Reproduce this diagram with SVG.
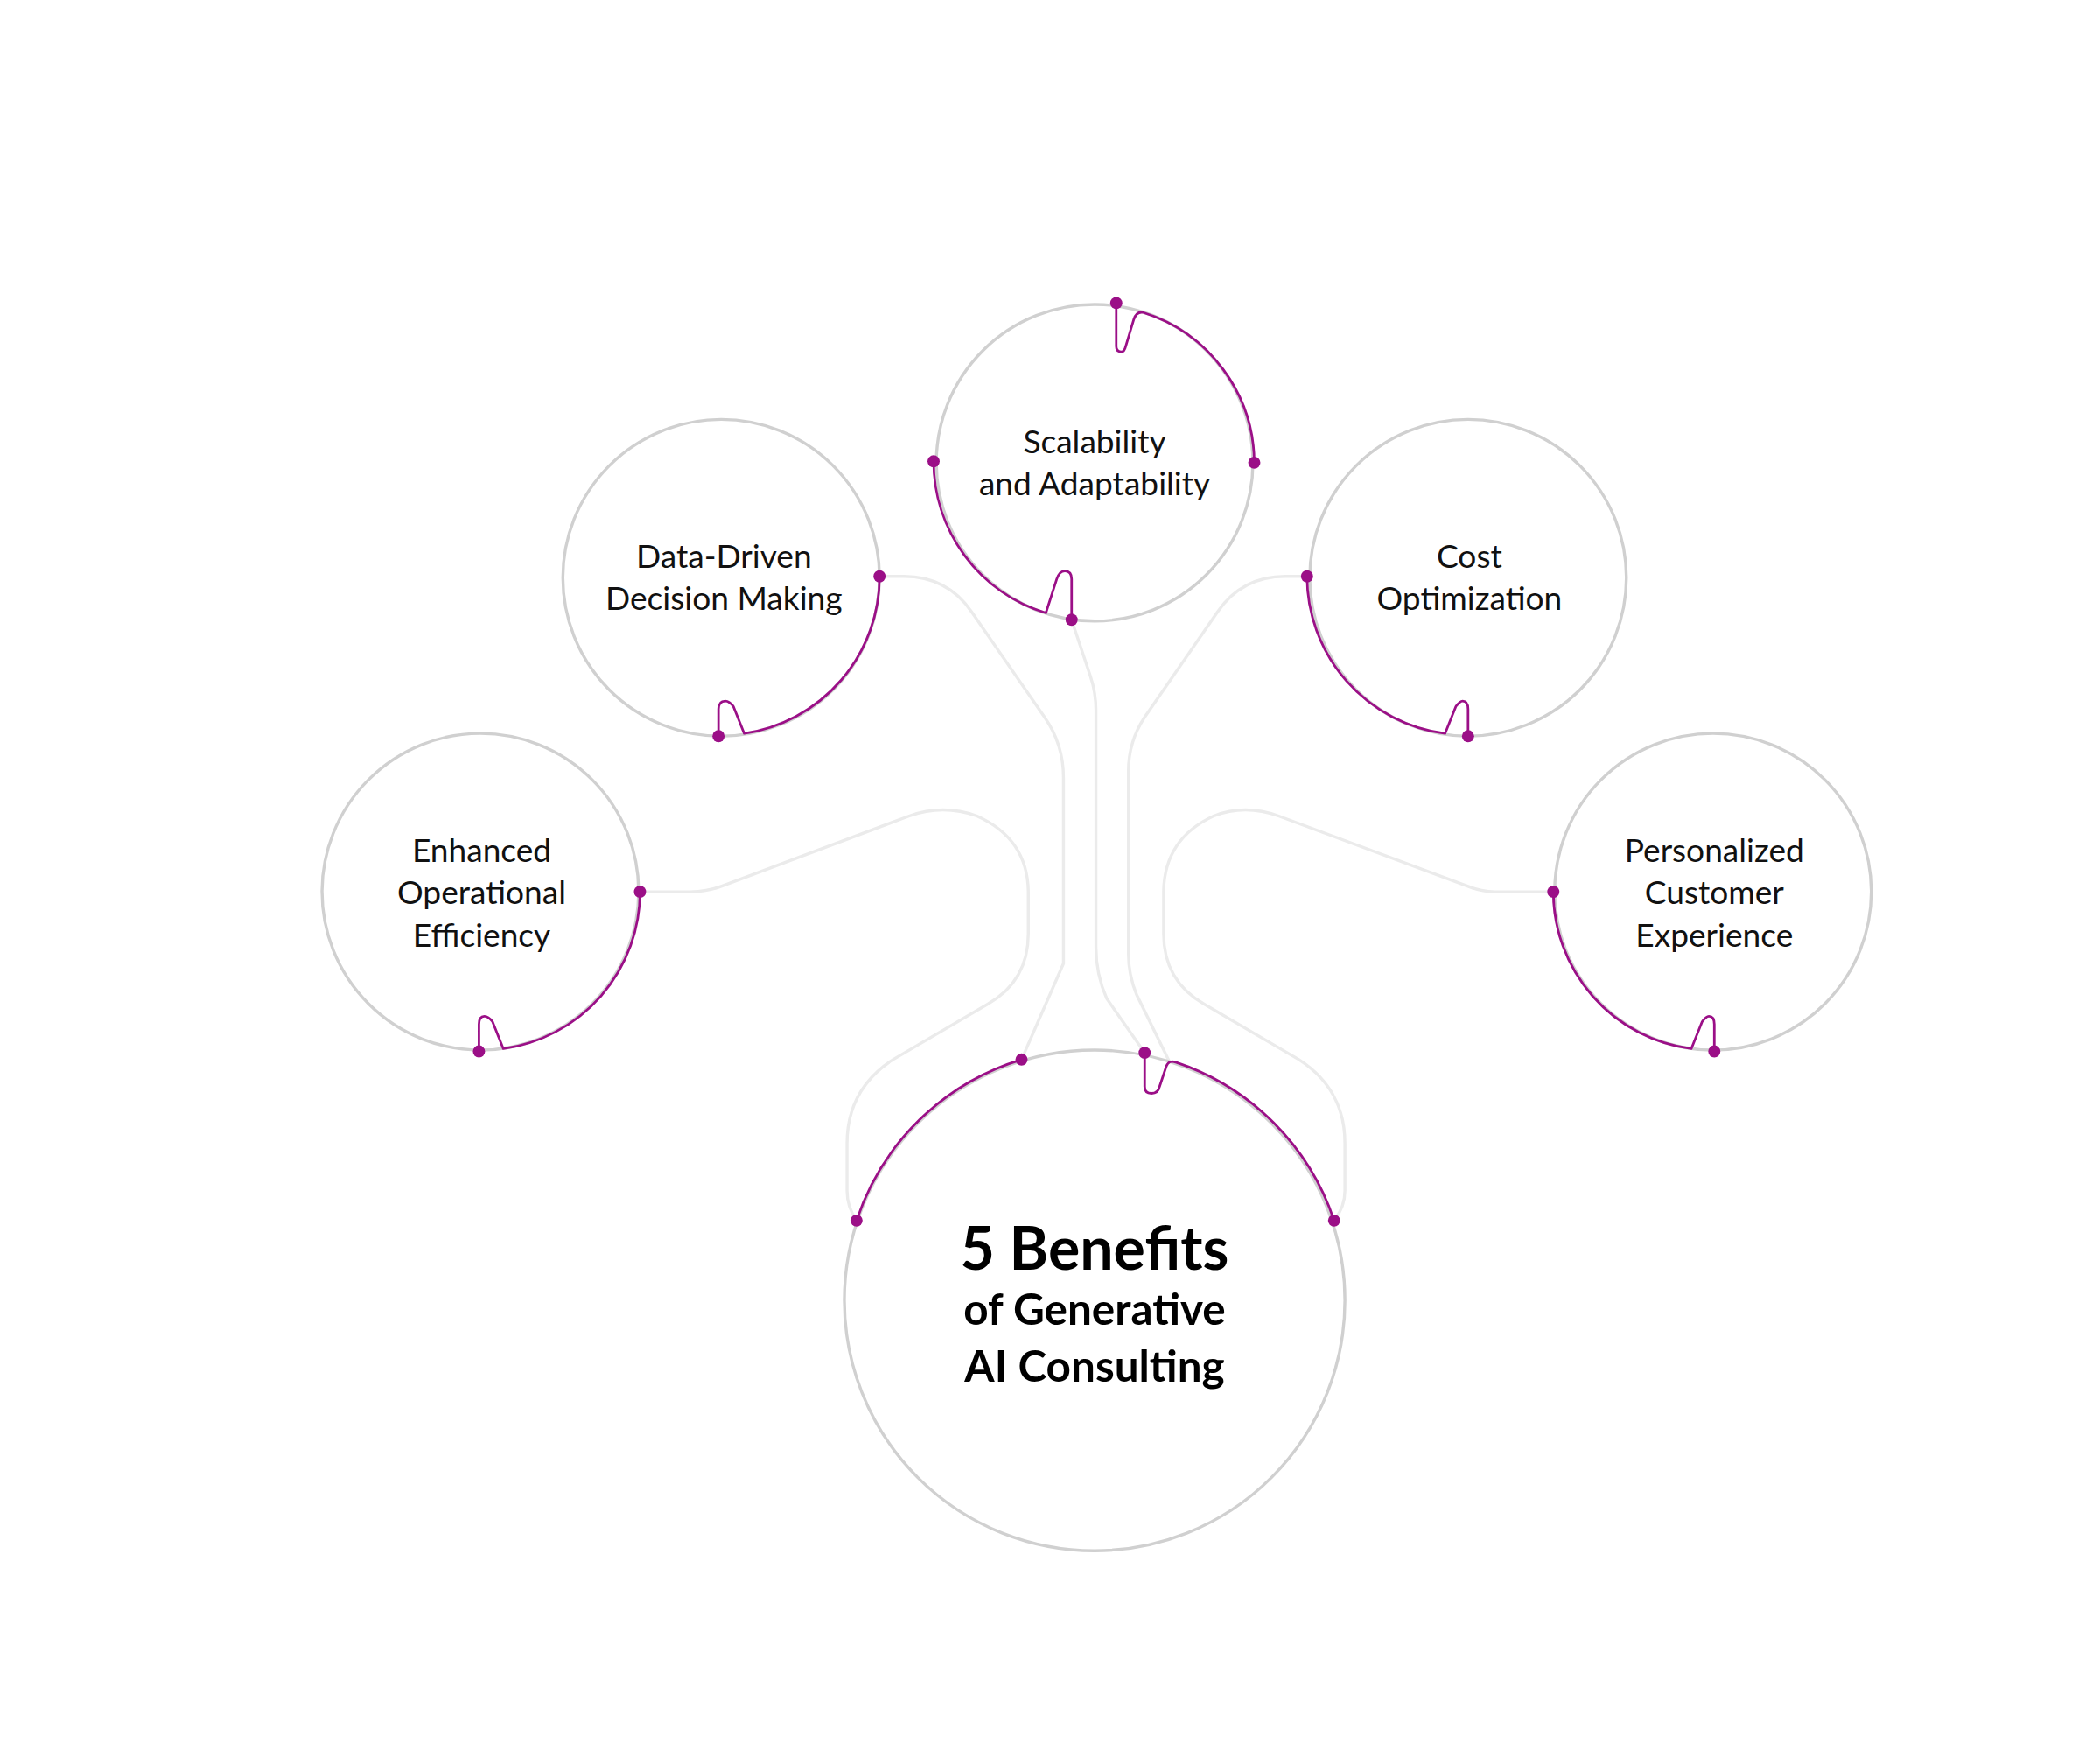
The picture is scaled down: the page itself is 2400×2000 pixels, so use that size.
<svg xmlns="http://www.w3.org/2000/svg" width="2400" height="2000" viewBox="0 0 2400 2000">
<style>
.c{fill:#fff;stroke:#d0d0d0;stroke-width:2.2}
.g{fill:none;stroke:#ebebeb;stroke-width:2.2}
.m{fill:none;stroke:#9b0f87;stroke-width:1.8;stroke-linejoin:round}
.d{fill:#9b0f87}
.t{font-family:Lato,"Liberation Sans",sans-serif;font-size:24px;fill:#111;text-anchor:middle}
.h{font-family:Lato,"Liberation Sans",sans-serif;font-weight:bold;fill:#000;text-anchor:middle}
</style>
<rect width="2400" height="2000" fill="#fff"/>
<g transform="scale(1.5464)">
<g id="connectors">
<path class="g" d="M473,659 H510 Q522,659 533,655 L672,603 Q697,594 722,603 Q760,620 760,660 V690 Q760,725 730,742 L660,783 Q626,805 626,845 V880 Q626,892 633,902"/>
<path class="g" d="M650,426 H668 Q700,426 718,452 L772,530 Q786,550 786,575 V712 L755,783"/>
<path class="g" d="M792,458 L806,500 Q810,512 810,525 V700 Q810,720 818,738 L846,778"/>
<path class="g" d="M966,426 H950 Q918,426 900,452 L846,530 Q834,548 834,570 V705 Q834,720 840,735 L865,786"/>
<path class="g" d="M1148,659 H1105 Q1095,659 1085,655 L945,603 Q920,594 897,603 Q860,620 860,660 V690 Q860,725 890,742 L960,783 Q994,805 994,845 V880 Q994,892 986,902"/>
</g>
<g id="center">
<circle class="c" cx="809" cy="961" r="185"/>
<path class="m" d="M633,902 A185,185 0 0 1 755,783"/>
<path class="m" d="M846,778 V803 Q846,808 851,808 Q856,808 857,803 L862,788 Q864,783 869,785 A185,185 0 0 1 986,902"/>
<circle class="d" cx="633" cy="902" r="4.5"/><circle class="d" cx="986" cy="902" r="4.5"/>
<circle class="d" cx="755" cy="783" r="4.5"/><circle class="d" cx="846" cy="778" r="4.5"/>
<text class="h" x="809" y="938" font-size="44">5 Benefits</text>
<text class="h" x="809" y="979" font-size="32">of Generative</text>
<text class="h" x="809" y="1021" font-size="32">AI Consulting</text>
</g>
<g id="scalability">
<circle class="c" cx="809" cy="342" r="117"/>
<path class="m" d="M825,224 V256 Q825,260 829,260 Q831,260 832,256 L838,236 Q840,230 845,231 A117,117 0 0 1 927,342"/>
<path class="m" d="M690,341 A117,117 0 0 0 773,453 L781,428 Q783,422 787,422 Q792,422 792,428 V458"/>
<circle class="d" cx="825" cy="224" r="4.5"/><circle class="d" cx="690" cy="341" r="4.5"/>
<circle class="d" cx="927" cy="342" r="4.5"/><circle class="d" cx="792" cy="458" r="4.5"/>
<text class="t" x="809" y="335">Scalability</text>
<text class="t" x="809" y="366">and Adaptability</text>
</g>
<g id="datadriven">
<circle class="c" cx="533" cy="427" r="117"/>
<path class="m" d="M650,426 A117,117 0 0 1 550,542 L542,522 Q539,518 536,518 Q531,518 531,524 V544"/>
<circle class="d" cx="650" cy="426" r="4.5"/><circle class="d" cx="531" cy="544" r="4.5"/>
<text class="t" x="535" y="420">Data-Driven</text>
<text class="t" x="535" y="451">Decision Making</text>
</g>
<g id="cost">
<circle class="c" cx="1085" cy="427" r="117"/>
<path class="m" d="M966,426 A117,117 0 0 0 1068,542 L1076,522 Q1079,518 1081,518 Q1085,518 1085,524 V544"/>
<circle class="d" cx="966" cy="426" r="4.5"/><circle class="d" cx="1085" cy="544" r="4.5"/>
<text class="t" x="1086" y="420">Cost</text>
<text class="t" x="1086" y="451">Optimization</text>
</g>
<g id="enhanced">
<circle class="c" cx="355" cy="659" r="117"/>
<path class="m" d="M473,659 A117,117 0 0 1 372,775 L364,755 Q361,751 358,751 Q354,751 354,757 V777"/>
<circle class="d" cx="473" cy="659" r="4.5"/><circle class="d" cx="354" cy="777" r="4.5"/>
<text class="t" x="356" y="637">Enhanced</text>
<text class="t" x="356" y="668">Operational</text>
<text class="t" x="356" y="700">Efficiency</text>
</g>
<g id="personalized">
<circle class="c" cx="1266" cy="659" r="117"/>
<path class="m" d="M1148,659 A117,117 0 0 0 1250,775 L1258,755 Q1261,751 1263,751 Q1267,751 1267,757 V777"/>
<circle class="d" cx="1148" cy="659" r="4.5"/><circle class="d" cx="1267" cy="777" r="4.5"/>
<text class="t" x="1267" y="637">Personalized</text>
<text class="t" x="1267" y="668">Customer</text>
<text class="t" x="1267" y="700">Experience</text>
</g>
</g>
</svg>
